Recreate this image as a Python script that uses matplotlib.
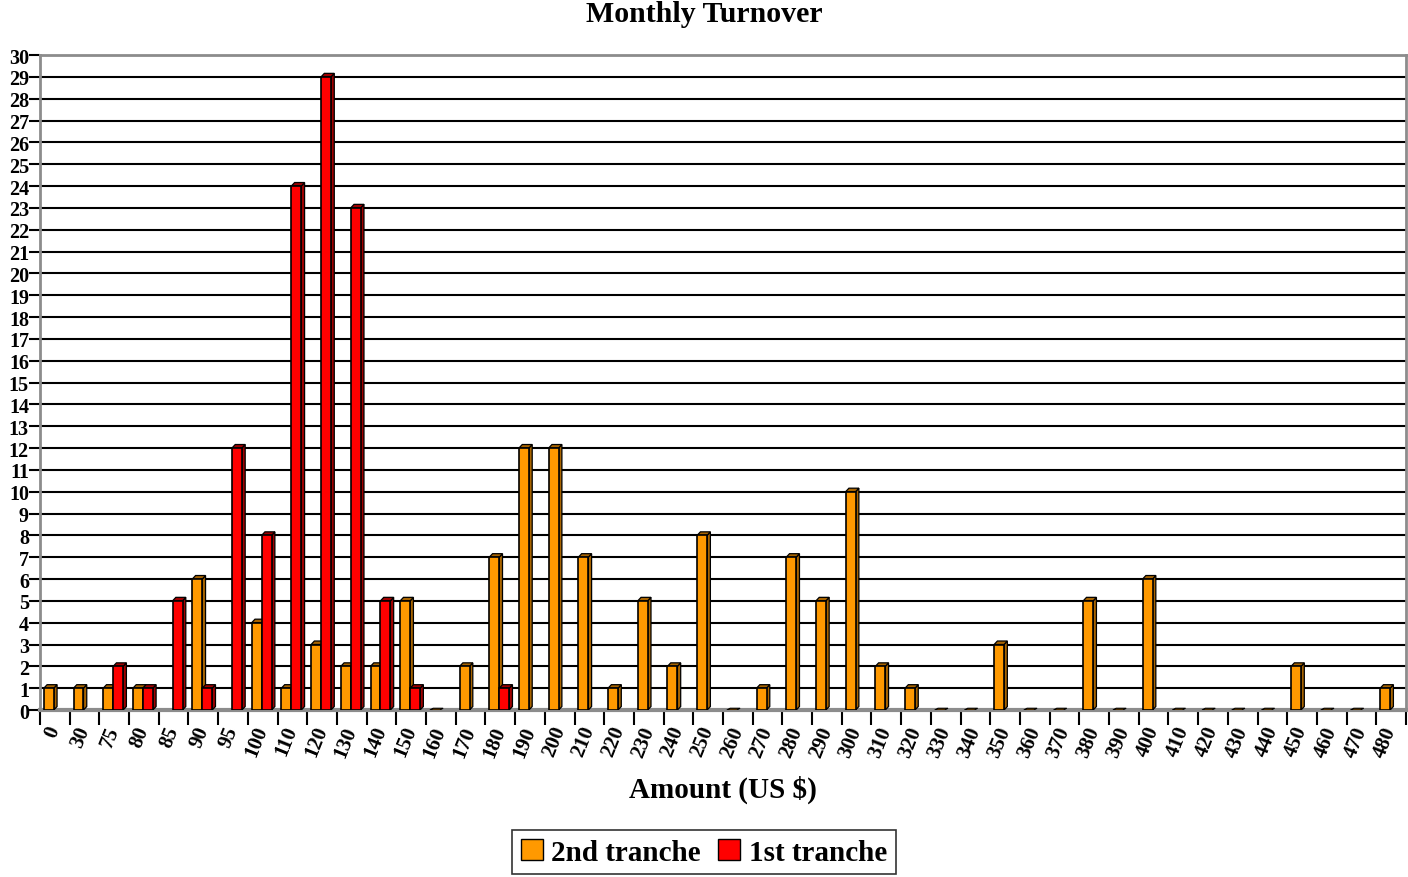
import numpy as np
import matplotlib.pyplot as plt
from matplotlib.patches import Polygon, Patch

# ==========================
# Data
# ==========================

amounts = ["0", "30", "75", "80", "85", "90", "95", "100", "110", "120",
           "130", "140", "150", "160", "170", "180", "190", "200", "210", "220",
           "230", "240", "250", "260", "270", "280", "290", "300", "310", "320",
           "330", "340", "350", "360", "370", "380", "390", "400", "410", "420",
           "430", "440", "450", "460", "470", "480"]

second_tranche = [1, 1, 1, 1, 0, 6, 0, 4, 1, 3,
                  2, 2, 5, 0, 2, 7, 12, 12, 7, 1,
                  5, 2, 8, 0, 1, 7, 5, 10, 2, 1,
                  0, 0, 3, 0, 0, 5, 0, 6, 0, 0,
                  0, 0, 2, 0, 0, 1]

first_tranche = [0, 0, 2, 1, 5, 1, 12, 8, 24, 29,
                 23, 5, 1, 0, 0, 1, 0, 0, 0, 0,
                 0, 0, 0, 0, 0, 0, 0, 0, 0, 0,
                 0, 0, 0, 0, 0, 0, 0, 0, 0, 0,
                 0, 0, 0, 0, 0, 0]

ORANGE = "#ff9900"
ORANGE_DARK = "#a86400"
RED = "#ff0000"
RED_DARK = "#a00000"

plt.rcParams["font.family"] = ["Liberation Serif", "DejaVu Serif"]
plt.rcParams["font.weight"] = "bold"

fig = plt.figure(figsize=(14.08, 8.78), dpi=100)
ax = fig.add_axes([0.0284, 0.1902, 0.9702, 0.746])

n = len(amounts)
x = np.arange(n)
bw = 0.335
dx = 0.11
dy = 0.16


def bar3d(x0, h, front, dark):
    if h == 0:
        # flat bar: only the top face, seen as a thin line
        ax.add_patch(Polygon([(x0, 0), (x0 + bw, 0), (x0 + bw + dx, dy * 0.5),
                              (x0 + dx, dy * 0.5)], closed=True,
                             facecolor=dark, edgecolor="black", lw=0.8, zorder=4))
        return
    ax.add_patch(Polygon([(x0 + bw, 0), (x0 + bw + dx, dy), (x0 + bw + dx, h + dy),
                          (x0 + bw, h)], closed=True,
                         facecolor=dark, edgecolor="black", lw=0.9, zorder=4))
    ax.add_patch(Polygon([(x0, h), (x0 + dx, h + dy), (x0 + bw + dx, h + dy),
                          (x0 + bw, h)], closed=True,
                         facecolor=dark, edgecolor="black", lw=0.9, zorder=4))
    ax.bar(x0, h, width=bw, align="edge", color=front, edgecolor="black",
           lw=1.2, zorder=5)


for i in range(n):
    s = second_tranche[i]
    f = first_tranche[i]
    if s > 0 or f == 0:
        bar3d(i + 0.13, s, ORANGE, ORANGE_DARK)
    if f > 0:
        bar3d(i + 0.13 + bw, f, RED, RED_DARK)

ax.set_xlim(0, n)
ax.set_ylim(0, 30)

# gridlines
ax.set_yticks(range(0, 31))
ax.yaxis.grid(True, color="black", lw=1.5, zorder=1)
ax.set_axisbelow(True)
ax.tick_params(axis="y", length=8, width=1.5, pad=0, labelsize=14.5)

ax.set_xticks(np.arange(0, n + 1))
ax.set_xticklabels([])
ax.tick_params(axis="x", which="major", length=11, width=1.5)
ax.set_xticks(x + 0.5, minor=True)
ax.set_xticklabels(amounts, minor=True, rotation=68, rotation_mode="anchor",
                   ha="right", va="center", fontsize=15, fontweight="bold")
ax.tick_params(axis="x", which="minor", length=0, pad=12)

for side in ["left", "right", "top", "bottom"]:
    ax.spines[side].set_color("#8c8c8c")
    ax.spines[side].set_linewidth(2)
ax.spines["bottom"].set_linewidth(3)

fig.text(0.5, 0.984, "Monthly Turnover", fontsize=21.5, fontweight="bold",
         ha="center", va="center")
ax.set_xlabel("Amount (US $)", fontsize=21, fontweight="bold")
ax.xaxis.set_label_coords(0.5, -0.098)

handles = [Patch(facecolor=ORANGE, edgecolor="black", lw=1),
           Patch(facecolor=RED, edgecolor="black", lw=1)]
leg = fig.legend(handles, ["2nd tranche", "1st tranche"], loc="lower center",
                 bbox_to_anchor=(0.5, 0.003), ncol=2, frameon=True, fancybox=False,
                 prop={"size": 21, "weight": "bold"}, handlelength=0.75,
                 handleheight=0.75, handletextpad=0.3, columnspacing=0.6,
                 borderpad=0.3, borderaxespad=0.0)
leg.get_frame().set_edgecolor("black")
leg.get_frame().set_linewidth(1.2)

fig.savefig("out.png", dpi=100)
